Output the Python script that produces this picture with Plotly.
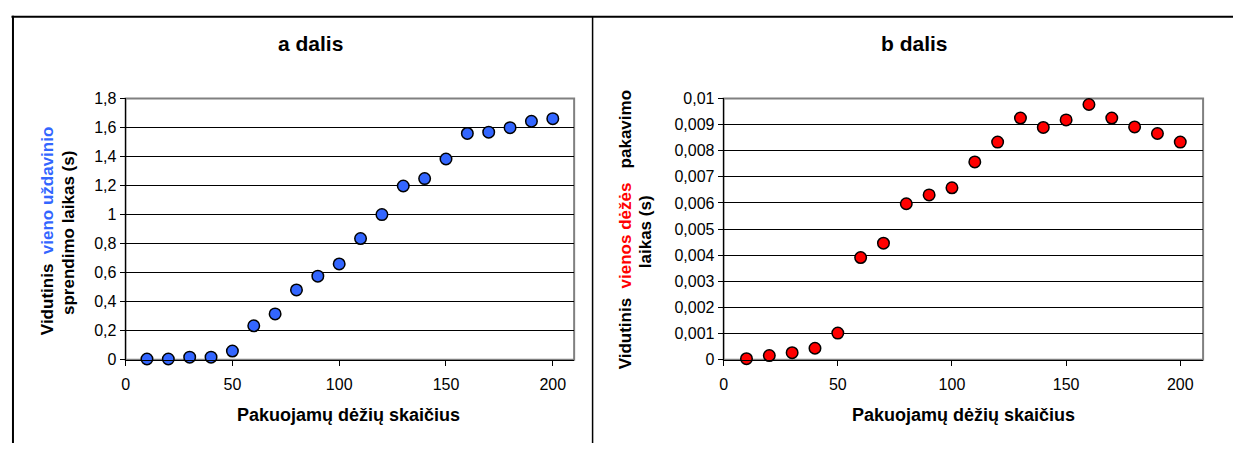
import plotly.graph_objects as go

W, H = 1233, 452

# ---- data ----
boxes = [10, 20, 30, 40, 50, 60, 70, 80, 90, 100, 110, 120, 130, 140, 150, 160, 170, 180, 190, 200]
time_a = [0.005, 0.005, 0.018, 0.018, 0.06, 0.234, 0.316, 0.481, 0.576, 0.660,
          0.835, 1.000, 1.197, 1.248, 1.383, 1.559, 1.568, 1.599, 1.643, 1.661]
time_b = [0.00004, 0.00016, 0.00027, 0.00044, 0.00102, 0.00391, 0.00446, 0.00597, 0.00631, 0.00658,
          0.00757, 0.00833, 0.00925, 0.00889, 0.00918, 0.00977, 0.00925, 0.00891, 0.00866, 0.00833]

x_ticks = [0, 50, 100, 150, 200]
ya_ticks = [0, 0.2, 0.4, 0.6, 0.8, 1.0, 1.2, 1.4, 1.6, 1.8]
ya_labels = ["0", "0,2", "0,4", "0,6", "0,8", "1", "1,2", "1,4", "1,6", "1,8"]
yb_ticks = [0, 0.001, 0.002, 0.003, 0.004, 0.005, 0.006, 0.007, 0.008, 0.009, 0.01]
yb_labels = ["0", "0,001", "0,002", "0,003", "0,004", "0,005", "0,006", "0,007", "0,008", "0,009", "0,01"]

title_a = "a dalis"
title_b = "b dalis"
x_title = "Pakuojamų dėžių skaičius"

FONT = "Arial, 'Liberation Sans', sans-serif"

def px(x):
    return x / W

def py(y):
    return 1 - y / H

fig = go.Figure()
fig.add_trace(go.Scatter(x=boxes, y=time_a, mode="markers", xaxis="x", yaxis="y",
                         marker=dict(size=11.5, color="#3366FF", line=dict(color="black", width=1.5)),
                         showlegend=False, cliponaxis=False))
fig.add_trace(go.Scatter(x=boxes, y=time_b, mode="markers", xaxis="x2", yaxis="y2",
                         marker=dict(size=11.5, color="#FF0000", line=dict(color="black", width=1.5)),
                         showlegend=False, cliponaxis=False))

ydom = [py(365.5), py(94)]
common_x = dict(range=[0, 210], tickvals=x_ticks, showgrid=False, zeroline=False,
                showline=True, linecolor="black", linewidth=1, ticks="outside", ticklen=5,
                tickcolor="black", ticklabelstandoff=5,
                tickfont=dict(family=FONT, size=16, color="black"))
common_y = dict(showgrid=True, gridcolor="black", gridwidth=1, zeroline=False,
                showline=True, linecolor="black", linewidth=1, ticks="outside", ticklen=5,
                tickcolor="black", tickfont=dict(family=FONT, size=16, color="black"))

fig.update_layout(
    width=W, height=H,
    margin=dict(l=0, r=0, t=0, b=0),
    paper_bgcolor="white", plot_bgcolor="white",
    xaxis=dict(domain=[px(122), px(572)], anchor="y", **common_x),
    yaxis=dict(domain=ydom, anchor="x", range=[0, 1.8], tickvals=ya_ticks, ticktext=ya_labels, **common_y),
    xaxis2=dict(domain=[px(722), px(1203)], anchor="y2", **common_x),
    yaxis2=dict(domain=ydom, anchor="x2", range=[0, 0.01], tickvals=yb_ticks, ticktext=yb_labels, **common_y),
)

shapes = [
    # outer frame
    dict(type="line", xref="paper", yref="paper", x0=px(7.5), x1=1, y0=py(9), y1=py(9),
         line=dict(color="black", width=2)),
    dict(type="line", xref="paper", yref="paper", x0=px(9), x1=px(9), y0=py(8), y1=0,
         line=dict(color="black", width=2)),
    dict(type="line", xref="paper", yref="paper", x0=px(590.5), x1=px(590.5), y0=py(9), y1=0,
         line=dict(color="black", width=1.5)),
    # plot area borders (gray)
    dict(type="rect", xref="x domain", yref="y domain", x0=0, x1=1, y0=0, y1=1,
         line=dict(color="#808080", width=2), layer="below"),
    dict(type="rect", xref="x2 domain", yref="y2 domain", x0=0, x1=1, y0=0, y1=1,
         line=dict(color="#808080", width=2), layer="below"),
]
fig.update_layout(shapes=shapes)

def note(text, x, y, size, angle=0):
    return dict(text=text, x=px(x), y=py(y), xref="paper", yref="paper",
                xanchor="center", yanchor="middle", textangle=angle, showarrow=False,
                font=dict(family=FONT, size=size, color="black"))

ann = [
    note("<b>" + title_a + "</b>", 307, 37, 21),
    note("<b>" + title_b + "</b>", 913, 37, 21),
    note("<b>" + x_title + "</b>", 346, 423, 18),
    note("<b>" + x_title + "</b>", 963, 423, 18),
    note("<b>Vidutinis&nbsp;&nbsp;<span style='color:#3366FF'>vieno uždavinio</span></b>", 43, 232, 17, -90),
    note("<b>sprendimo laikas (s)</b>", 64, 234, 17, -90),
    note("<b>Vidutinis&nbsp;&nbsp;<span style='color:#FF0000'>vienos dėžės</span>&nbsp;&nbsp;&nbsp;pakavimo</b>", 623, 230, 17, -90),
    note("<b>laikas (s)</b>", 643, 232, 17, -90),
]
fig.update_layout(annotations=ann)

fig.write_html("out.html", config=dict(displayModeBar=False),
               post_script="document.body.style.margin='0';document.body.style.overflow='hidden';")
